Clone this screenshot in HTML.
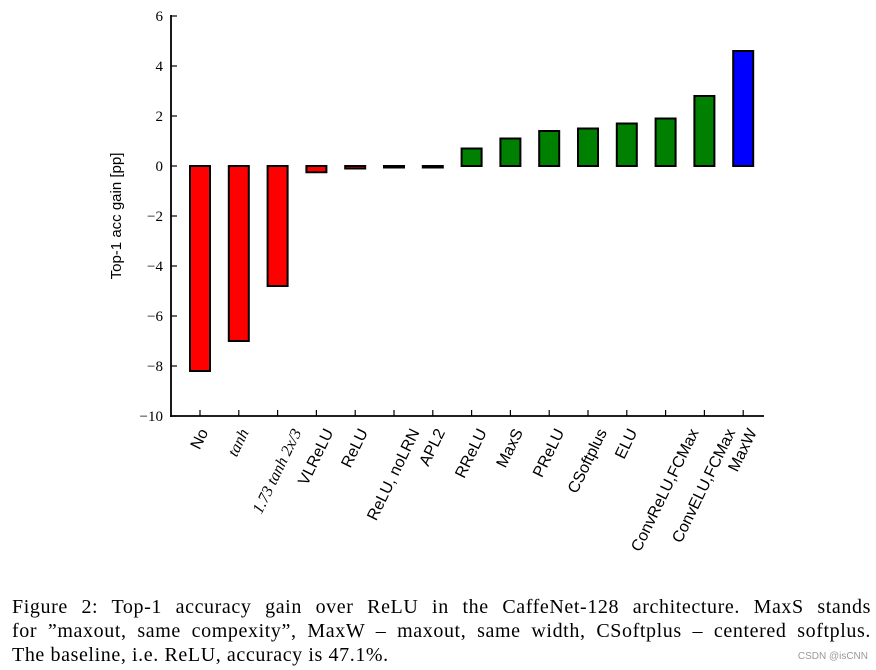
<!DOCTYPE html>
<html><head><meta charset="utf-8"><style>
body{margin:0;background:#fff;width:876px;height:670px;overflow:hidden;position:relative}
.cap{position:absolute;left:12px;width:859px;font-family:"Liberation Serif",serif;font-size:20px;letter-spacing:0.6px;line-height:24px;color:#000;white-space:nowrap}
.j{text-align:justify;text-align-last:justify}
.wm{position:absolute;right:8px;bottom:8px;font-family:"Liberation Sans",sans-serif;font-size:10px;color:#999}
</style></head><body>
<svg id="chart" width="876" height="590" style="position:absolute;left:0;top:0"></svg>
<div class="cap j" style="top:595px">Figure 2: Top-1 accuracy gain over ReLU in the CaffeNet-128 architecture. MaxS stands</div>
<div class="cap j" style="top:619px">for ”maxout, same compexity”, MaxW – maxout, same width, CSoftplus – centered softplus.</div>
<div class="cap" style="top:643px">The baseline, i.e. ReLU, accuracy is 47.1%.</div>
<div class="wm">CSDN @isCNN</div>
<script>
const categories=["No","tanh","1.73tanh","VLReLU","ReLU","ReLU, noLRN","APL2","RReLU","MaxS","PReLU","CSoftplus","ELU","ConvReLU,FCMax","ConvELU,FCMax","MaxW"];
const values=[-8.2,-7.0,-4.8,-0.25,-0.1,-0.04,-0.04,0.7,1.1,1.4,1.5,1.7,1.9,2.8,4.6];
const colors=["red","red","red","red","red","red","red","green","green","green","green","green","green","green","blue"];
const yTicks=[6,4,2,0,-2,-4,-6,-8,-10];
const NS="http://www.w3.org/2000/svg";
const svg=document.getElementById('chart');
const x0=200,step=38.8,bw=20;
const y=v=>166-25*v;
const xc=i=>x0+i*step;
function mk(t,a){const e=document.createElementNS(NS,t);for(const k in a)e.setAttribute(k,a[k]);svg.appendChild(e);return e;}
let e=mk('line',{x1:171,y1:15,x2:171,y2:417,stroke:'#000','stroke-width':1.8});


e=mk('line',{x1:170,y1:416,x2:764,y2:416,stroke:'#000','stroke-width':1.8});


yTicks.forEach(t=>{
 const l=mk('line',{x1:171,y1:y(t),x2:177,y2:y(t),stroke:'#000','stroke-width':1.2});
 
 
 const tx=mk('text',{x:163,y:y(t)+5,'text-anchor':'end','font-family':'Liberation Serif, serif','font-size':15});
 tx.textContent=t<0?'\u2212'+(-t):String(t);
 
 
});
const yt=mk('text',{transform:'translate(121,216) rotate(-90)','text-anchor':'middle','font-family':'Liberation Sans, sans-serif','font-size':15});
yt.textContent='Top-1 acc gain [pp]';


const ang=64*Math.PI/180;
categories.forEach((c,i)=>{
 const v=values[i];
 const r=mk('rect',{x:xc(i)-bw/2,y:Math.min(y(v),y(0)),width:bw,height:Math.max(Math.abs(y(v)-y(0)),1.5),fill:colors[i],stroke:'#000','stroke-width':2});
 
 
 const tk=mk('line',{x1:xc(i),y1:416,x2:xc(i),y2:410,stroke:'#000','stroke-width':1.2});
 
 
 const it=(i==1||i==2);
 const t=mk('text',{'text-anchor':'end','font-family':it?'Liberation Serif, serif':'Liberation Sans, sans-serif','font-size':16,'font-style':it?'italic':'normal'});
 t.textContent=i==1?'tanh':(i==2?'1.73 tanh 2x/3':c);
 
 
 const L=t.getComputedTextLength();
 t.setAttribute('transform',`translate(${xc(i)+4+L/2*Math.cos(ang)},${432}) rotate(-64)`);
});
</script>
</body></html>
